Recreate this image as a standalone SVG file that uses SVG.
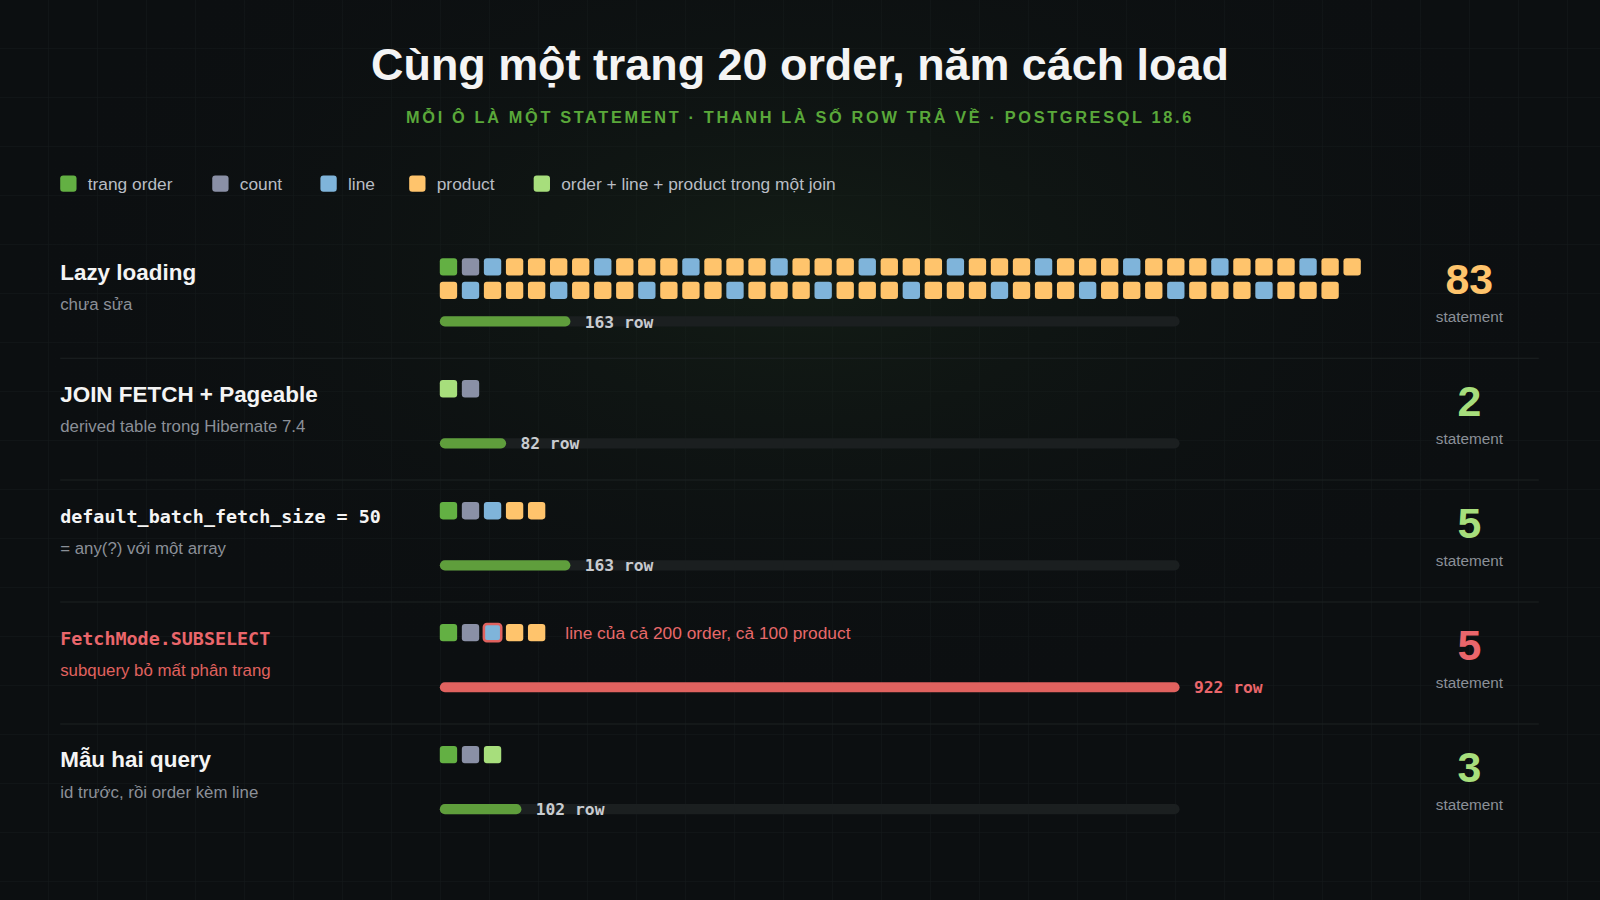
<svg xmlns="http://www.w3.org/2000/svg" width="1600" height="900" viewBox="0 0 1600 900">
<defs>
<pattern id="grid" width="49" height="49" patternUnits="userSpaceOnUse"><path d="M49 0V49H0" fill="none" stroke="#151a1b" stroke-width="1"/></pattern>
<radialGradient id="glow" cx="0.5" cy="0.3" r="0.5"><stop offset="0" stop-color="#1a2a1a" stop-opacity="0.5"/><stop offset="1" stop-color="#0c0f11" stop-opacity="0"/></radialGradient>
<style>
.sq{rx:3px;ry:3px}
.o{fill:#63b043}.c{fill:#8a90a6}.l{fill:#7fb4da}.p{fill:#ffc46c}.j{fill:#a7de7c}
.t{font-family:"Liberation Sans",Arial,sans-serif}
.h{font-family:"Liberation Sans",Arial,sans-serif;font-size:22px;font-weight:bold;fill:#f4f4f4}
.m{font-family:"DejaVu Sans Mono","Liberation Mono",monospace;font-size:18px;font-weight:bold;fill:#f4f4f4}
.s{font-family:"Liberation Sans",Arial,sans-serif;font-size:16.5px;fill:#8b9098}
.lg{font-family:"Liberation Sans",Arial,sans-serif;font-size:17px;fill:#b9bdc4}
.trk{fill:#1b1f20}
.bar{fill:#5f9e3c}
.bl{font-family:"DejaVu Sans Mono","Liberation Mono",monospace;font-size:16px;font-weight:bold;fill:#c9ccd0}
.num{font-family:"Liberation Sans",Arial,sans-serif;font-size:42px;font-weight:bold;text-anchor:middle}
.st{font-family:"Liberation Sans",Arial,sans-serif;font-size:15px;fill:#8b9098;text-anchor:middle}
.sep{stroke:#1d2223;stroke-width:1}
</style>
</defs>
<rect width="1600" height="900" fill="#0c0f11"/>
<rect width="1600" height="900" fill="url(#grid)"/>
<rect width="1600" height="900" fill="url(#glow)"/>
<g transform="scale(1.020408)">
<g id="header">
<text x="784" y="78" text-anchor="middle" class="t" font-size="44" font-weight="bold" fill="#f4f4f4">Cùng một trang 20 order, năm cách load</text>
<text x="784" y="121" text-anchor="middle" class="t" font-size="16" font-weight="bold" letter-spacing="2.6" fill="#5aa83a">MỖI Ô LÀ MỘT STATEMENT · THANH LÀ SỐ ROW TRẢ VỀ · POSTGRESQL 18.6</text>
</g>
<g id="legend">
<rect class="sq o" x="59" y="172" width="16" height="16"/><text class="lg" x="86" y="186">trang order</text>
<rect class="sq c" x="208" y="172" width="16" height="16"/><text class="lg" x="235" y="186">count</text>
<rect class="sq l" x="314" y="172" width="16" height="16"/><text class="lg" x="341" y="186">line</text>
<rect class="sq p" x="401" y="172" width="16" height="16"/><text class="lg" x="428" y="186">product</text>
<rect class="sq j" x="523" y="172" width="16" height="16"/><text class="lg" x="550" y="186">order + line + product trong một join</text>
</g>
<g id="separators">
<line class="sep" x1="59" y1="351" x2="1508" y2="351"/>
<line class="sep" x1="59" y1="470.5" x2="1508" y2="470.5"/>
<line class="sep" x1="59" y1="590" x2="1508" y2="590"/>
<line class="sep" x1="59" y1="709.5" x2="1508" y2="709.5"/>
</g>
<g id="row-lazy">
<text class="h" x="59" y="274">Lazy loading</text>
<text class="s" x="59" y="304">chưa sửa</text>
<g id="lazy-r1">
<rect class="sq o" x="431" y="253" width="17" height="17"/>
<rect class="sq c" x="452.6" y="253" width="17" height="17"/>
<rect class="sq l" x="474.2" y="253" width="17" height="17"/>
<rect class="sq p" x="495.8" y="253" width="17" height="17"/>
<rect class="sq p" x="517.4" y="253" width="17" height="17"/>
<rect class="sq p" x="539" y="253" width="17" height="17"/>
<rect class="sq p" x="560.6" y="253" width="17" height="17"/>
<rect class="sq l" x="582.2" y="253" width="17" height="17"/>
<rect class="sq p" x="603.8" y="253" width="17" height="17"/>
<rect class="sq p" x="625.4" y="253" width="17" height="17"/>
<rect class="sq p" x="647" y="253" width="17" height="17"/>
<rect class="sq l" x="668.6" y="253" width="17" height="17"/>
<rect class="sq p" x="690.2" y="253" width="17" height="17"/>
<rect class="sq p" x="711.8" y="253" width="17" height="17"/>
<rect class="sq p" x="733.4" y="253" width="17" height="17"/>
<rect class="sq l" x="755" y="253" width="17" height="17"/>
<rect class="sq p" x="776.6" y="253" width="17" height="17"/>
<rect class="sq p" x="798.2" y="253" width="17" height="17"/>
<rect class="sq p" x="819.8" y="253" width="17" height="17"/>
<rect class="sq l" x="841.4" y="253" width="17" height="17"/>
<rect class="sq p" x="863" y="253" width="17" height="17"/>
<rect class="sq p" x="884.6" y="253" width="17" height="17"/>
<rect class="sq p" x="906.2" y="253" width="17" height="17"/>
<rect class="sq l" x="927.8" y="253" width="17" height="17"/>
<rect class="sq p" x="949.4" y="253" width="17" height="17"/>
<rect class="sq p" x="971" y="253" width="17" height="17"/>
<rect class="sq p" x="992.6" y="253" width="17" height="17"/>
<rect class="sq l" x="1014.2" y="253" width="17" height="17"/>
<rect class="sq p" x="1035.8" y="253" width="17" height="17"/>
<rect class="sq p" x="1057.4" y="253" width="17" height="17"/>
<rect class="sq p" x="1079" y="253" width="17" height="17"/>
<rect class="sq l" x="1100.6" y="253" width="17" height="17"/>
<rect class="sq p" x="1122.2" y="253" width="17" height="17"/>
<rect class="sq p" x="1143.8" y="253" width="17" height="17"/>
<rect class="sq p" x="1165.4" y="253" width="17" height="17"/>
<rect class="sq l" x="1187" y="253" width="17" height="17"/>
<rect class="sq p" x="1208.6" y="253" width="17" height="17"/>
<rect class="sq p" x="1230.2" y="253" width="17" height="17"/>
<rect class="sq p" x="1251.8" y="253" width="17" height="17"/>
<rect class="sq l" x="1273.4" y="253" width="17" height="17"/>
<rect class="sq p" x="1295" y="253" width="17" height="17"/>
<rect class="sq p" x="1316.6" y="253" width="17" height="17"/>
</g>
<g id="lazy-r2">
<rect class="sq p" x="431" y="276" width="17" height="17"/>
<rect class="sq l" x="452.6" y="276" width="17" height="17"/>
<rect class="sq p" x="474.2" y="276" width="17" height="17"/>
<rect class="sq p" x="495.8" y="276" width="17" height="17"/>
<rect class="sq p" x="517.4" y="276" width="17" height="17"/>
<rect class="sq l" x="539" y="276" width="17" height="17"/>
<rect class="sq p" x="560.6" y="276" width="17" height="17"/>
<rect class="sq p" x="582.2" y="276" width="17" height="17"/>
<rect class="sq p" x="603.8" y="276" width="17" height="17"/>
<rect class="sq l" x="625.4" y="276" width="17" height="17"/>
<rect class="sq p" x="647" y="276" width="17" height="17"/>
<rect class="sq p" x="668.6" y="276" width="17" height="17"/>
<rect class="sq p" x="690.2" y="276" width="17" height="17"/>
<rect class="sq l" x="711.8" y="276" width="17" height="17"/>
<rect class="sq p" x="733.4" y="276" width="17" height="17"/>
<rect class="sq p" x="755" y="276" width="17" height="17"/>
<rect class="sq p" x="776.6" y="276" width="17" height="17"/>
<rect class="sq l" x="798.2" y="276" width="17" height="17"/>
<rect class="sq p" x="819.8" y="276" width="17" height="17"/>
<rect class="sq p" x="841.4" y="276" width="17" height="17"/>
<rect class="sq p" x="863" y="276" width="17" height="17"/>
<rect class="sq l" x="884.6" y="276" width="17" height="17"/>
<rect class="sq p" x="906.2" y="276" width="17" height="17"/>
<rect class="sq p" x="927.8" y="276" width="17" height="17"/>
<rect class="sq p" x="949.4" y="276" width="17" height="17"/>
<rect class="sq l" x="971" y="276" width="17" height="17"/>
<rect class="sq p" x="992.6" y="276" width="17" height="17"/>
<rect class="sq p" x="1014.2" y="276" width="17" height="17"/>
<rect class="sq p" x="1035.8" y="276" width="17" height="17"/>
<rect class="sq l" x="1057.4" y="276" width="17" height="17"/>
<rect class="sq p" x="1079" y="276" width="17" height="17"/>
<rect class="sq p" x="1100.6" y="276" width="17" height="17"/>
<rect class="sq p" x="1122.2" y="276" width="17" height="17"/>
<rect class="sq l" x="1143.8" y="276" width="17" height="17"/>
<rect class="sq p" x="1165.4" y="276" width="17" height="17"/>
<rect class="sq p" x="1187" y="276" width="17" height="17"/>
<rect class="sq p" x="1208.6" y="276" width="17" height="17"/>
<rect class="sq l" x="1230.2" y="276" width="17" height="17"/>
<rect class="sq p" x="1251.8" y="276" width="17" height="17"/>
<rect class="sq p" x="1273.4" y="276" width="17" height="17"/>
<rect class="sq p" x="1295" y="276" width="17" height="17"/>
</g>
<rect class="trk" x="431" y="310" width="725" height="10" rx="5"/>
<rect class="bar" x="431" y="310" width="128" height="10" rx="5"/>
<text class="bl" x="573" y="321">163 row</text>
<text class="num" x="1440" y="288" fill="#ffc46c">83</text>
<text class="st" x="1440" y="316">statement</text>
</g>
<g id="row-joinfetch" transform="translate(0,119.5)">
<text class="h" x="59" y="274">JOIN FETCH + Pageable</text>
<text class="s" x="59" y="304">derived table trong Hibernate 7.4</text>
<rect class="sq j" x="431" y="253" width="17" height="17"/>
<rect class="sq c" x="452.6" y="253" width="17" height="17"/>
<rect class="trk" x="431" y="310" width="725" height="10" rx="5"/>
<rect class="bar" x="431" y="310" width="65" height="10" rx="5"/>
<text class="bl" x="510" y="321">82 row</text>
<text class="num" x="1440" y="288" fill="#a7de7c">2</text>
<text class="st" x="1440" y="316">statement</text>
</g>
<g id="row-batch" transform="translate(0,239)">
<text class="m" x="59" y="274">default_batch_fetch_size = 50</text>
<text class="s" x="59" y="304">= any(?) với một array</text>
<rect class="sq o" x="431" y="253" width="17" height="17"/>
<rect class="sq c" x="452.6" y="253" width="17" height="17"/>
<rect class="sq l" x="474.2" y="253" width="17" height="17"/>
<rect class="sq p" x="495.8" y="253" width="17" height="17"/>
<rect class="sq p" x="517.4" y="253" width="17" height="17"/>
<rect class="trk" x="431" y="310" width="725" height="10" rx="5"/>
<rect class="bar" x="431" y="310" width="128" height="10" rx="5"/>
<text class="bl" x="573" y="321">163 row</text>
<text class="num" x="1440" y="288" fill="#a7de7c">5</text>
<text class="st" x="1440" y="316">statement</text>
</g>
<g id="row-subselect" transform="translate(0,358.5)">
<text class="m" x="59" y="274" fill="#ea666b" style="fill:#ea666b">FetchMode.SUBSELECT</text>
<text class="s" x="59" y="304" style="fill:#e0625f">subquery bỏ mất phân trang</text>
<rect class="sq o" x="431" y="253" width="17" height="17"/>
<rect class="sq c" x="452.6" y="253" width="17" height="17"/>
<rect class="sq l" x="474.2" y="253" width="17" height="17" stroke="#e0625f" stroke-width="2.5"/>
<rect class="sq p" x="495.8" y="253" width="17" height="17"/>
<rect class="sq p" x="517.4" y="253" width="17" height="17"/>
<text class="t" x="554" y="268" font-size="17" fill="#e8696a">line của cả 200 order, cả 100 product</text>
<rect x="431" y="310" width="725" height="10" rx="5" fill="#e0625f"/>
<text class="bl" x="1170" y="321" style="fill:#ea666b">922 row</text>
<text class="num" x="1440" y="288" fill="#ea666b">5</text>
<text class="st" x="1440" y="316">statement</text>
</g>
<g id="row-twoquery" transform="translate(0,478)">
<text class="h" x="59" y="274">Mẫu hai query</text>
<text class="s" x="59" y="304">id trước, rồi order kèm line</text>
<rect class="sq o" x="431" y="253" width="17" height="17"/>
<rect class="sq c" x="452.6" y="253" width="17" height="17"/>
<rect class="sq j" x="474.2" y="253" width="17" height="17"/>
<rect class="trk" x="431" y="310" width="725" height="10" rx="5"/>
<rect class="bar" x="431" y="310" width="80" height="10" rx="5"/>
<text class="bl" x="525" y="321">102 row</text>
<text class="num" x="1440" y="288" fill="#a7de7c">3</text>
<text class="st" x="1440" y="316">statement</text>
</g>
</g>
</svg>
